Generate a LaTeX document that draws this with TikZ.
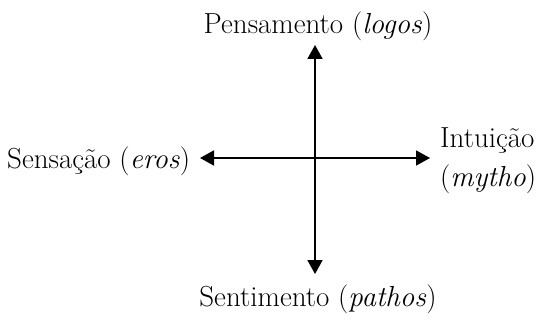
\documentclass[tikz,border=0pt]{standalone}
\usetikzlibrary{arrows.meta}
\begin{document}
\begin{tikzpicture}[x=1pt,y=-1pt,
  lbl/.style={inner sep=0pt,anchor=base,font=\fontsize{29}{34}\selectfont},
  axis/.style={line width=1.8pt,{Triangle[width=15pt,length=14pt]}-{Triangle[width=15pt,length=14pt]}}]
\useasboundingbox (0,0) rectangle (545,326);
\coordinate (top) at (315,45);
\coordinate (bot) at (315,274);
\coordinate (lft) at (200,158);
\coordinate (rgt) at (430,158);
\draw[axis] (top) -- (bot);
\draw[axis] (lft) -- (rgt);
\node[lbl] (pens) at (318,34) {Pensamento (\textit{logos})};
\node[lbl,anchor=base west] (sens) at (7,168) {Sensação (\textit{eros})};
\node[lbl,anchor=base west] (intu) at (440,147) {Intuição};
\node[lbl,anchor=base west] (myth) at (440,186) {(\textit{mytho})};
\node[lbl] (sent) at (318,306) {Sentimento (\textit{pathos})};
\end{tikzpicture}
\end{document}
